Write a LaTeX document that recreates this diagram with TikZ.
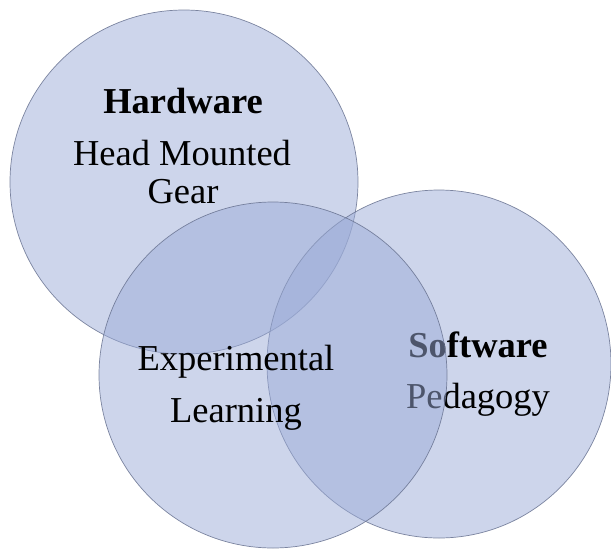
\documentclass[tikz,border=0pt]{standalone}
\usepackage{fontspec}
\setmainfont{Liberation Serif}
\usetikzlibrary{shapes.geometric}
\definecolor{vfill}{RGB}{155,171,215}
\definecolor{vline}{RGB}{105,115,145}
\begin{document}
\begin{tikzpicture}[x=1pt,y=-1pt,
  venn/.style={ellipse,draw=vline,line width=0.7pt,draw opacity=0.85,fill=vfill,fill opacity=0.5,text opacity=1,inner sep=0pt},
  lbl/.style={anchor=base,inner sep=0pt,font=\fontsize{36.5}{40}\selectfont,text=black},
  blbl/.style={lbl,font=\fontsize{36.5}{40}\selectfont\bfseries}]
\useasboundingbox (0,0) rectangle (611,550);
% Hardware
\node[venn,minimum width=348pt,minimum height=344pt] (hw) at (184,182) {};
\node[blbl] (hwt) at (183,113) {Hardware};
\node[lbl] (hw1) at (182,165) {Head Mounted};
\node[lbl] (hw2) at (183,203) {Gear};
% Software
\node[venn,minimum width=344pt,minimum height=348pt] (sw) at (439,364) {};
\node[blbl] (swt) at (478,357) {Software};
\node[lbl] (sw1) at (478,408) {Pedagogy};
% Experimental
\node[venn,minimum width=348pt,minimum height=346pt] (ex) at (273,375) {};
\node[lbl] (ex1) at (236,370) {Experimental};
\node[lbl] (ex2) at (236,422) {Learning};
\end{tikzpicture}
\end{document}
